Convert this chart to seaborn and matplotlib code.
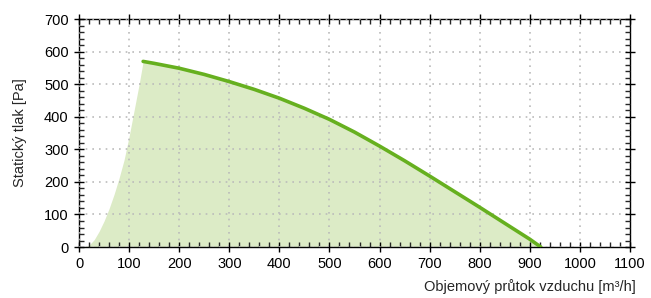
import seaborn as sns
import matplotlib.pyplot as plt
import numpy as np
import pandas as pd
from matplotlib.ticker import MultipleLocator

# Fan curve (flow [m3/h], static pressure [Pa])
flow = [128, 150, 200, 250, 300, 350, 400, 450, 500, 550, 600, 650,
        700, 750, 800, 850, 900, 922]
pressure = [570, 564, 549, 530, 508, 484, 457, 426, 392, 353, 310, 265,
            218, 170, 122, 73, 24, 0]

# Left boundary of the working area (system curve)
sys_flow = [12, 20, 30, 40, 50, 60, 70, 80, 90, 100, 110, 120, 128]
sys_pressure = [0, 6, 22, 48, 80, 118, 162, 212, 268, 340, 420, 500, 570]

line_color = "#66b01f"
fill_color = "#dcebc6"

sns.set_style("white")
plt.rcParams["font.family"] = ["Liberation Sans", "DejaVu Sans"]

fig = plt.figure(figsize=(6.51, 2.98), dpi=100)
ax = fig.add_axes([0.1214, 0.171, 0.8463, 0.765])

# working area polygon
area_x = np.concatenate([sys_flow, flow[1:]])
area_y = np.concatenate([sys_pressure, pressure[1:]])
ax.fill_between(area_x, 0, area_y, color=fill_color, linewidth=0, zorder=1)

df = pd.DataFrame({"flow": flow, "pressure": pressure})
sns.lineplot(data=df, x="flow", y="pressure", ax=ax, color=line_color,
             linewidth=2.6, zorder=3)

ax.set_xlim(0, 1100)
ax.set_ylim(0, 700)
ax.xaxis.set_major_locator(MultipleLocator(100))
ax.xaxis.set_minor_locator(MultipleLocator(20))
ax.yaxis.set_major_locator(MultipleLocator(100))
ax.yaxis.set_minor_locator(MultipleLocator(20))

ax.grid(True, which="major", linestyle=(0, (1, 3)), color="#bbbbbb", linewidth=1.2, zorder=2)
ax.set_axisbelow(False)

for s in ax.spines.values():
    s.set_color("black")
    s.set_linewidth(1.0)

ax.tick_params(axis="both", which="major", direction="inout", length=7, width=1,
               labelsize=10.5, colors="black", top=True, right=True, pad=4)
ax.tick_params(axis="both", which="minor", direction="in", length=3.5, width=1,
               top=True, right=True)
ax.tick_params(which="both", bottom=True, left=True)

ax.set_xlabel("Objemový průtok vzduchu [m³/h]", fontsize=10.5, labelpad=6)
ax.xaxis.set_label_coords(1.01, -0.14)
ax.xaxis.label.set_horizontalalignment("right")
ax.set_ylabel("Statický tlak [Pa]", fontsize=10.5, labelpad=12)

fig.savefig("out.png", dpi=100)
